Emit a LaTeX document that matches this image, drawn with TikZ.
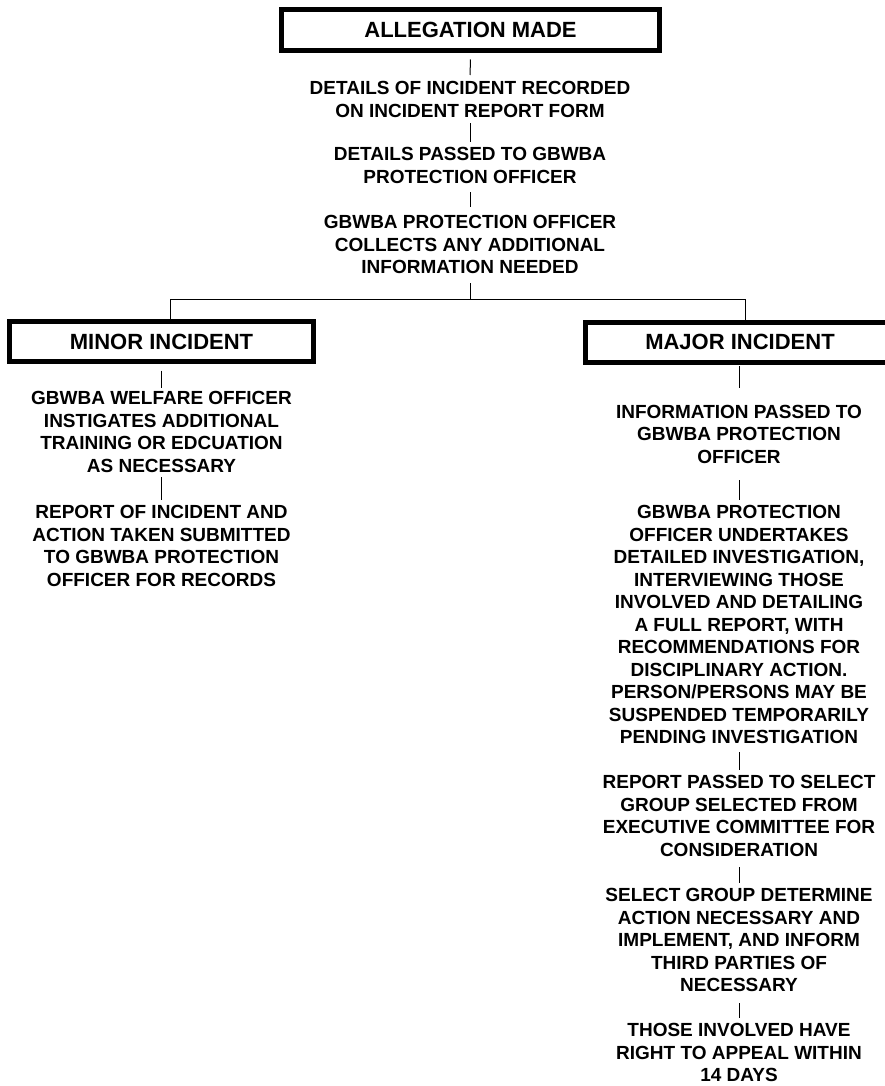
\documentclass[tikz,border=0pt]{standalone}
\usepackage{fontspec}
\setmainfont{Liberation Sans}
\begin{document}
\begin{tikzpicture}[x=1pt,y=-1pt,
  txt/.style={font=\bfseries\fontsize{19}{22.5}\selectfont, align=center, inner sep=0pt, anchor=north},
  box/.style={draw, line width=5pt, font=\bfseries\fontsize{22}{26}\selectfont, minimum width=304pt, minimum height=40pt, inner sep=0pt},
  openbox/.style={line width=5pt},
  conn/.style={line width=1pt}]
\useasboundingbox (0,0) rectangle (885,1086);

\node[box, minimum width=378pt, minimum height=41pt] (alleg) at (470.5,30) {ALLEGATION MADE};
\node[box] (minor) at (161.5,341.5) {MINOR INCIDENT};
\node[box, draw=none, outer sep=0pt, minimum width=310pt] (major) at (740,342) {MAJOR INCIDENT};
\coordinate (mjne) at (885,322);
\coordinate (mjse) at (885,362);
\draw[openbox] (mjne) -- (mjne -| major.north west) -- (mjse -| major.south west) -- (mjse);

\node[txt] (t1) at (470,81.2) {DETAILS OF INCIDENT RECORDED\\ON INCIDENT REPORT FORM};
\node[txt] (t2) at (470,147.2) {DETAILS PASSED TO GBWBA\\PROTECTION OFFICER};
\node[txt] (t3) at (470,215.2) {GBWBA PROTECTION OFFICER\\COLLECTS ANY ADDITIONAL\\INFORMATION NEEDED};

\node[txt] (l1) at (161.5,391.2) {GBWBA WELFARE OFFICER\\INSTIGATES ADDITIONAL\\TRAINING OR EDCUATION\\AS NECESSARY};
\node[txt] (l2) at (161.5,505.2) {REPORT OF INCIDENT AND\\ACTION TAKEN SUBMITTED\\TO GBWBA PROTECTION\\OFFICER FOR RECORDS};

\node[txt] (r1) at (739,404.7) {INFORMATION PASSED TO\\GBWBA PROTECTION\\OFFICER};
\node[txt] (r2) at (739,505.2) {GBWBA PROTECTION\\OFFICER UNDERTAKES\\DETAILED INVESTIGATION,\\INTERVIEWING THOSE\\INVOLVED AND DETAILING\\A FULL REPORT, WITH\\RECOMMENDATIONS FOR\\DISCIPLINARY ACTION.\\PERSON/PERSONS MAY BE\\SUSPENDED TEMPORARILY\\PENDING INVESTIGATION};
\node[txt] (r3) at (739,775.2) {REPORT PASSED TO SELECT\\GROUP SELECTED FROM\\EXECUTIVE COMMITTEE FOR\\CONSIDERATION};
\node[txt] (r4) at (739,888.2) {SELECT GROUP DETERMINE\\ACTION NECESSARY AND\\IMPLEMENT, AND INFORM\\THIRD PARTIES OF\\NECESSARY};
\node[txt] (r5) at (739,1023.2) {THOSE INVOLVED HAVE\\RIGHT TO APPEAL WITHIN\\14 DAYS};

\coordinate (split) at (470,299);
\coordinate (sl) at (170,299);
\coordinate (sr) at (745,299);

\draw[conn, shorten <=6.5pt, shorten >=6.2pt] (alleg.south) -- (t1.north);
\draw[conn, shorten <=5.7pt, shorten >=5.2pt] (t1.south) -- (t2.north);
\draw[conn, shorten <=8.7pt, shorten >=8.2pt] (t2.south) -- (t3.north);
\draw[conn, shorten <=9pt] (t3.south) -- (split);
\draw[conn] (sl) -- (sr);
\draw[conn] (sl) -- (sl |- minor.north);
\draw[conn] (sr) -- (sr |- major.north);

\draw[conn, shorten <=6.5pt, shorten >=3pt] (minor.south) -- (l1.north);
\draw[conn, shorten <=4.7pt, shorten >=5.2pt] (l1.south) -- (l2.north);

\draw[conn, shorten <=4pt, shorten >=16.7pt] (major.south -| r1.north) -- (r1.north);
\draw[conn, shorten <=16.7pt, shorten >=5.2pt] (r1.south) -- (r2.north);
\draw[conn, shorten <=8.2pt, shorten >=5.2pt] (r2.south) -- (r3.north);
\draw[conn, shorten <=10.7pt, shorten >=5.2pt] (r3.south) -- (r4.north);
\draw[conn, shorten <=11.2pt, shorten >=5.2pt] (r4.south) -- (r5.north);
\end{tikzpicture}
\end{document}
